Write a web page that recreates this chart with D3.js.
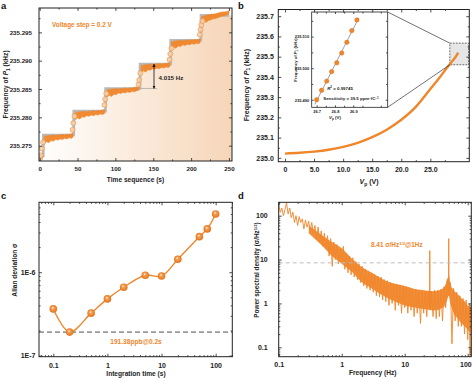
<!DOCTYPE html>
<html><head><meta charset="utf-8">
<script src="https://cdn.jsdelivr.net/npm/d3@7"></script>
<style>body{margin:0;background:#fff}svg{display:block}</style>
</head><body>
<script>
// ================= DATA =================
// Panel a
const aStepT  = [0, 4.8, 45, 87, 132.5, 173, 213, 250];
const aLevels = [235.2732, 235.2769, 235.2811, 235.2851, 235.2894, 235.2936, 235.2980, 235.2980];
const aBandT  = [0,2,4,
  6,9,12,15,18,21,24,27,30,33,36,39,42,44,
  47,50,53,56,59,62,65,68,71,74,77,80,83,86,
  89,92,95,98,101,104,107,110,113,116,119,122,125,128,131,
  134,137,140,143,146,149,152,155,158,161,164,167,170,172,
  174,177,180,183,186,189,192,195,198,201,204,207,210,212,
  214,217,220,223,226,229,232,235,238,241,244,247,250];
const aBandHi = [235.2734,235.2735,235.2737,
  235.2767,235.2767,235.2768,235.2768,235.2769,235.2768,235.2769,235.2769,235.2770,235.2769,235.2770,235.2770,235.2771,235.2772,
  235.2809,235.2809,235.2810,235.2810,235.2811,235.2810,235.2811,235.2811,235.2812,235.2811,235.2812,235.2812,235.2813,235.2814,
  235.2849,235.2849,235.2850,235.2850,235.2851,235.2850,235.2851,235.2851,235.2852,235.2851,235.2852,235.2852,235.2853,235.2853,235.2854,
  235.2892,235.2892,235.2893,235.2893,235.2894,235.2893,235.2894,235.2894,235.2895,235.2894,235.2895,235.2895,235.2896,235.2897,
  235.2934,235.2934,235.2935,235.2935,235.2936,235.2935,235.2936,235.2936,235.2937,235.2936,235.2937,235.2937,235.2938,235.2939,
  235.2978,235.2979,235.2980,235.2981,235.2982,235.2982,235.2983,235.2984,235.2985,235.2986,235.2986,235.2987,235.2988];
const aBandLo = [235.2724,235.2726,235.2728,
  235.2754,235.2757,235.2755,235.2759,235.2758,235.2761,235.2760,235.2762,235.2761,235.2763,235.2762,235.2764,235.2763,235.2765,
  235.2796,235.2799,235.2797,235.2801,235.2800,235.2803,235.2802,235.2804,235.2803,235.2805,235.2804,235.2806,235.2805,235.2807,
  235.2836,235.2839,235.2837,235.2841,235.2840,235.2843,235.2842,235.2844,235.2843,235.2845,235.2844,235.2846,235.2845,235.2847,235.2848,
  235.2879,235.2882,235.2880,235.2884,235.2883,235.2886,235.2885,235.2887,235.2886,235.2888,235.2887,235.2889,235.2888,235.2890,
  235.2921,235.2924,235.2922,235.2926,235.2925,235.2928,235.2927,235.2929,235.2928,235.2930,235.2929,235.2931,235.2930,235.2932,
  235.2966,235.2969,235.2968,235.2971,235.2972,235.2974,235.2974,235.2976,235.2977,235.2979,235.2979,235.2981,235.2982];
const aCircT = [0.5,1.5,3,4.5, 43.5,44.5,46, 85.5,86.5,88, 130.5,131.5,133, 171.5,172.5,174, 211.5,212.5,213.5,215];
const aCircV = [235.2728,235.2733,235.2745,235.2756, 235.2778,235.2790,235.2802, 235.2822,235.2832,235.2842,
                235.2858,235.2866,235.2878, 235.2902,235.2912,235.2922, 235.2946,235.2955,235.2963,235.2970];
const aXTicks = [0,50,100,150,200,250];
const aYTicks = [235.275,235.280,235.285,235.290,235.295];
const aStepLabel = "4.015 Hz";

// Panel b
const bV = [0,2.5,5,7.5,10,12.5,15,17.5,20,22.5,25,26.5,27.5,28.5,29.3,29.8];
const bF = [235.021,235.025,235.031,235.040,235.054,235.074,235.102,235.139,235.188,235.252,235.340,235.393,235.432,235.468,235.497,235.520];
const bXTicks = [0,5,10,15,20,25];
const bYTicks = [235.0,235.1,235.2,235.3,235.4,235.5,235.6,235.7];
const bInsetV = [26.700,26.727,26.755,26.782,26.810,26.837,26.865,26.892,26.920];
const bInsetF = [235.4900,235.4930,235.4959,235.4989,235.5017,235.5048,235.5082,235.5119,235.5153];
const bInsetXTicks = [26.7,26.8,26.9];
const bInsetYTicks = [235.490,235.500,235.510];

// Panel c
const cTau   = [0.1,0.2,0.5,1,2,5,10,20,50,70,100];
const cSigma = [3.63e-7,1.9138e-7,3.23e-7,4.79e-7,6.6e-7,9.2e-7,9.0e-7,1.43e-6,2.67e-6,3.31e-6,5.0e-6];
const cRef = 1.9138e-7;
const cXTicks = [0.1,1,10,100];
const cYTicks = [1e-7,1e-6];
const cYLabels = ["1E-7","1E-6"];

// Panel d
const dF = [0.1,0.106,0.112,0.119,0.126,0.133,0.141,0.150,0.158,0.168,0.178,0.188,0.2,0.211,0.224,0.237,0.251,0.266,0.282,0.299,0.316,0.335,0.355,0.376,0.398,0.422,0.447,0.473,0.501,0.531,0.562,0.596,0.631,0.668,0.708,0.750,0.794,0.841,0.891,0.944,1.0,1.06,1.12,1.19,1.26,1.33,1.41,1.50,1.58,1.68,1.78,1.88,2.0,2.11,2.24,2.37,2.51,2.66,2.82,2.99,3.16,3.35,3.55,3.76,3.98,4.22,4.47,4.73,5.01,5.31,5.62,5.96,6.31,6.68,7.08,7.50,7.94,8.41,8.91,9.44,10.0,10.6,11.2,11.9,12.6,13.3,14.1,15.0,15.8,16.8,17.8,18.8,20.0,21.1,22.4,23.7,24.8,25.0,25.2,26.6,28.2,29.9,31.6,33.5,35.5,37.6,39.8,42.2,44.7,47.3,49.5,50.0,50.5,53.1,56.2,59.6,63.1,66.8,70.8,75.0,79.4,84.1,89.1,94.4,100,106,109,112,115];
const dPSD = [180,120,150,100,140,200,110,150,90,120,70,100,60,95,70,85,50,80,55,75,45,70,40,60,30,55,25,45,20,40,18,35,12,30,7,25,10,22,8,18,9,20,6,14,5,12,4.5,11,4,9,3.5,8,3,7,2.5,6,2.2,5.5,2,5,1.8,4.5,1.5,4.2,1.4,4,1.2,3.5,1.1,3.3,0.9,3,1,2.8,0.7,2.7,0.9,2.6,0.6,2.5,0.8,2.4,0.6,2.3,0.7,2.2,0.5,2.1,0.6,2.0,0.35,2.0,0.6,1.9,0.5,1.9,0.8,16,0.7,1.9,0.5,2.0,0.45,2.0,0.5,2.1,0.4,2.4,0.8,3.5,1.5,30,2,3,0.12,2.2,0.4,1.8,0.3,1.5,0.3,1.3,0.2,1.2,0.15,1,0.06,0.8,0.3];
// dense core band of the spectrum
const dBandF  = [0.3,0.5,0.7,1,1.5,2,3,5,7,10,15,20,30,40,45,48,50,53,60,70,80,90,100,115];
const dBandHi = [60,35,25,18,10,7,5,3.3,2.8,2.5,2.1,2.0,1.9,2.2,2.8,3.8,4.5,2.8,2.0,1.6,1.3,1.1,0.9,0.8];
const dBandLo = [40,20,12,8,5,3.2,2.2,1.4,1.1,0.9,0.8,0.75,0.7,0.8,1.0,1.3,1.5,1.0,0.6,0.45,0.35,0.3,0.25,0.2];
const dRef = 8.41;
const dXTicks = [0.1,1,10,100];
const dYTicks = [0.1,1,10,100];

// ================= STYLE =================
const FONT = "'Liberation Sans', Arial, Helvetica, sans-serif";
const ORANGE = "#f0862a";
const INK = "#222";

const svg = d3.select("body").append("svg").attr("width",472).attr("height",378)
  .style("font-family", FONT);
const defs = svg.append("defs");

function clip(id, x0, y0, x1, y1){
  defs.append("clipPath").attr("id",id).append("rect")
    .attr("x",x0).attr("y",y0).attr("width",x1-x0).attr("height",y1-y0);
  return `url(#${id})`;
}

function minorLog(lo, hi){
  const out=[];
  for(let e=Math.floor(Math.log10(lo))-1;e<=Math.ceil(Math.log10(hi));e++)
    for(let m=2;m<=9;m++){const v=m*Math.pow(10,e); if(v>lo&&v<hi) out.push(v);}
  return out;
}

function frame(g, x, y, o){
  const [x0,x1]=x.range(), [y0,y1]=y.range();
  const fs=o.fs, pad=o.pad||[4,4];
  const add=(gen,scale,vals,size,tr,fmt,p)=>{
    const a=g.append("g").attr("transform",tr)
      .call(gen(scale).tickValues(vals).tickSize(size).tickSizeOuter(0).tickPadding(p||3).tickFormat(fmt||(()=> "")));
    a.select(".domain").remove();
    a.selectAll("line").attr("stroke",INK).attr("stroke-width",0.8);
    a.selectAll("text").attr("fill","#222").style("font-size",fs+"px").style("font-weight","bold").style("font-family",FONT);
    return a;
  };
  const M=o.major||3, m=o.minor||1.6;
  const bx=add(d3.axisBottom,x,o.xt,-M,`translate(0,${y0})`,o.xf,pad[0]);
  add(d3.axisTop,x,o.xt,-M,`translate(0,${y1})`);
  add(d3.axisLeft,y,o.yt,-M,`translate(${x0},0)`,o.yf,pad[1]);
  add(d3.axisRight,y,o.yt,-M,`translate(${x1},0)`);
  if(o.xm){ add(d3.axisBottom,x,o.xm,-m,`translate(0,${y0})`); add(d3.axisTop,x,o.xm,-m,`translate(0,${y1})`); }
  if(o.ym){ add(d3.axisLeft,y,o.ym,-m,`translate(${x0},0)`); add(d3.axisRight,y,o.ym,-m,`translate(${x1},0)`); }
  g.append("rect").attr("x",x0).attr("y",y1).attr("width",x1-x0).attr("height",y0-y1)
    .attr("fill","none").attr("stroke",INK).attr("stroke-width",o.sw||1);
  return bx;
}

function label(txt, x, y, size){
  svg.append("text").attr("x",x).attr("y",y).text(txt).style("font-size",size+"px").style("font-weight","bold").attr("fill","#111");
}

function addParts(t, parts){
  parts.forEach(p=>{ const s=t.append("tspan").text(p.t);
    if(p.i) s.style("font-style","italic");
    if(p.dy) s.attr("dy",p.dy);
    if(p.fs) s.style("font-size",p.fs+"px"); });
  return t;
}
function yTitle(x, y, size, parts){
  const t=svg.append("text").attr("transform",`translate(${x},${y}) rotate(-90)`).attr("text-anchor","middle")
    .style("font-size",size+"px").style("font-weight","bold").attr("fill","#222");
  return addParts(t, parts);
}
function xTitle(x, y, size, parts){
  const t=svg.append("text").attr("x",x).attr("y",y).attr("text-anchor","middle")
    .style("font-size",size+"px").style("font-weight","bold").attr("fill","#222");
  return addParts(t, parts);
}
const P1 = (fs)=>[{t:"Frequency of "},{t:"P",i:1},{t:"1",dy:fs*0.25,fs:fs*0.7},{t:" (kHz)",dy:-fs*0.25}];

// ================= PANEL A =================
{
  const x=d3.scaleLinear().domain([-0.9,254]).range([39,232]);
  const y=d3.scaleLinear().domain([235.2723,235.2993]).range([161,8]);
  const g=svg.append("g");
  const gd=g.append("g").attr("clip-path",clip("ca",39,8,232,161));
  const grad=defs.append("linearGradient").attr("id","ga").attr("x1","0").attr("x2","1").attr("y1","0").attr("y2","0");
  grad.append("stop").attr("offset","0").attr("stop-color","#ffffff");
  grad.append("stop").attr("offset","1").attr("stop-color","#f6d6b8");
  const stair=aStepT.map((t,i)=>[t,aLevels[i]]);
  stair.push([254,aLevels[aLevels.length-1]]);
  gd.append("path").attr("d",d3.area().curve(d3.curveStepAfter).x(d=>x(d[0])).y0(161).y1(d=>y(d[1]))(stair))
    .attr("fill","url(#ga)");
  gd.append("path").attr("d",d3.line().curve(d3.curveStepAfter).x(d=>x(d[0])).y(d=>y(d[1]))(aStepT.map((t,i)=>[t,aLevels[i]])))
    .attr("fill","none").attr("stroke","#b9b9b9").attr("stroke-width",2.6);
  const starts=aStepT.slice(0,-1);
  const pts=aBandT.map((t,i)=>({t,hi:aBandHi[i],lo:aBandLo[i],s:d3.bisectRight(starts,t)-1}));
  d3.groups(pts,d=>d.s).forEach(([k,arr])=>{
    gd.append("path").attr("d",d3.area().x(d=>x(d.t)).y0(d=>y(d.lo)).y1(d=>y(d.hi))(arr))
      .attr("fill",ORANGE).attr("stroke",ORANGE).attr("stroke-width",0.6).attr("opacity",0.95);
  });
  gd.selectAll("circle.tr").data(aCircT).join("circle")
    .attr("cx",d=>x(d)).attr("cy",(d,i)=>y(aCircV[i])).attr("r",2.5)
    .attr("fill","#f8cfa8").attr("stroke","#e8954a").attr("stroke-width",0.7).attr("opacity",0.9);
  g.append("line").attr("x1",x(132.5)).attr("x2",x(155)).attr("y1",y(aLevels[3])).attr("y2",y(aLevels[3]))
    .attr("stroke","#aaa").attr("stroke-width",0.8);
  defs.append("marker").attr("id","ah").attr("viewBox","0 0 10 10").attr("refX",9).attr("refY",5)
    .attr("markerWidth",4).attr("markerHeight",4).attr("orient","auto-start-reverse")
    .append("path").attr("d","M0,0L10,5L0,10z").attr("fill","#111");
  g.append("line").attr("x1",x(151)).attr("x2",x(151)).attr("y1",y(aLevels[4])).attr("y2",y(aLevels[3]))
    .attr("stroke","#111").attr("stroke-width",0.8).attr("marker-start","url(#ah)").attr("marker-end","url(#ah)");
  g.append("text").attr("x",x(157)).attr("y",79.5).text(aStepLabel).style("font-size","6.2px").style("font-weight","bold").attr("fill","#222");
  g.append("text").attr("x",52).attr("y",26.5).text("Voltage step = 0.2 V").style("font-size","6.4px").style("font-weight","bold").attr("fill",ORANGE);
  frame(g,x,y,{xt:aXTicks,yt:aYTicks,xf:d3.format("d"),yf:d3.format(".3f"),fs:6.2,pad:[5.5,7],
    xm:[25,75,125,175,225],ym:[235.2775,235.2825,235.2875,235.2925,235.2975]});
  yTitle(8,84.5,6.6,P1(6.6));
  xTitle(135.5,182,6.6,[{t:"Time sequence (s)"}]);
  label("a",1,8.5,9.5);
}

// ================= PANEL B =================
{
  const x=d3.scaleLinear().domain([-1.15,31.7]).range([278.3,469.3]);
  const y=d3.scaleLinear().domain([234.981,235.7331]).range([161.7,9.5]);
  const g=svg.append("g");
  const gd=g.append("g").attr("clip-path",clip("cb",278.3,8.3,469.3,161.7));
  gd.append("rect").attr("x",x(28.35)).attr("y",y(235.567)).attr("width",x(31.6)-x(28.35)).attr("height",y(235.46)-y(235.567))
    .attr("fill","#e6e6e6").attr("stroke","#444").attr("stroke-width",0.8).attr("stroke-dasharray","1.8,1.2");
  gd.append("path").attr("d",d3.line().curve(d3.curveMonotoneX).x((d,i)=>x(bV[i])).y((d,i)=>y(bF[i]))(bV))
    .attr("fill","none").attr("stroke",ORANGE).attr("stroke-width",2.4);
  const ix=d3.scaleLinear().domain([26.673,27.088]).range([311.7,387.7]);
  const iy=d3.scaleLinear().domain([235.4876,235.5178]).range([107.3,12]);
  g.append("line").attr("x1",387.7).attr("y1",12).attr("x2",x(28.35)).attr("y2",y(235.567)).attr("stroke","#333").attr("stroke-width",0.7);
  g.append("line").attr("x1",387.7).attr("y1",107.3).attr("x2",x(28.35)).attr("y2",y(235.46)).attr("stroke","#333").attr("stroke-width",0.7);
  g.append("rect").attr("x",311.7).attr("y",12).attr("width",76).attr("height",95.3).attr("fill","#fff");
  const mx=d3.mean(bInsetV), my=d3.mean(bInsetF);
  const sl=d3.sum(bInsetV,(v,i)=>(v-mx)*(bInsetF[i]-my))/d3.sum(bInsetV,v=>(v-mx)*(v-mx));
  const fit=v=>my+sl*(v-mx);
  g.append("line").attr("x1",ix(26.69)).attr("x2",ix(26.93)).attr("y1",iy(fit(26.69))).attr("y2",iy(fit(26.93)))
    .attr("stroke","#888").attr("stroke-width",0.8);
  g.selectAll("circle.in").data(bInsetV).join("circle").attr("cx",d=>ix(d)).attr("cy",(d,i)=>iy(bInsetF[i])).attr("r",2.2)
    .attr("fill",ORANGE).attr("stroke","#d96d1a").attr("stroke-width",0.5);
  const gi=g.append("g");
  frame(gi,ix,iy,{xt:bInsetXTicks,yt:bInsetYTicks,xf:d3.format(".1f"),yf:d3.format(".3f"),fs:4,pad:[3,2.5],major:2,sw:0.8,
    xm:[26.75,26.85,26.95,27.05],ym:[235.495,235.505,235.515]});
  const tR=g.append("text").attr("x",340).attr("y",89.5).attr("text-anchor","middle").style("font-size","4.4px").style("font-weight","bold").attr("fill","#222");
  tR.append("tspan").text("R").style("font-style","italic");
  tR.append("tspan").text("2").attr("dy",-1.5).style("font-size","3px");
  tR.append("tspan").text(" = 0.99745").attr("dy",1.5);
  const tS=g.append("text").attr("x",351).attr("y",100).attr("text-anchor","middle").style("font-size","4.4px").style("font-weight","bold").attr("fill","#222");
  tS.append("tspan").text("Sensitivity = 39.5 ppm·fC");
  tS.append("tspan").text("−1").attr("dy",-1.5).style("font-size","3px");
  const it=g.append("text").attr("transform","translate(297,60) rotate(-90)").attr("text-anchor","middle").style("font-size","4.2px").style("font-weight","bold").attr("fill","#222");
  addParts(it,P1(4.2));
  const ixt=g.append("text").attr("x",335).attr("y",119).attr("text-anchor","middle").style("font-size","4.4px").style("font-weight","bold").attr("fill","#222");
  addParts(ixt,[{t:"V",i:1},{t:"p",dy:1,fs:3},{t:" (V)",dy:-1}]);

  frame(g,x,y,{xt:bXTicks,yt:bYTicks,xf:d=>d===0?"0":d3.format(".1f")(d),yf:d3.format(".1f"),fs:7,pad:[5,4.5],
    xm:[2.5,7.5,12.5,17.5,22.5,27.5],ym:[235.05,235.15,235.25,235.35,235.45,235.55,235.65]});
  yTitle(248.5,85,7,P1(7));
  xTitle(369,184,7,[{t:"V",i:1},{t:"p",dy:1.8,fs:5},{t:" (V)",dy:-1.8}]);
  label("b",238,8.5,9.5);
}

// ================= PANEL C =================
{
  const x=d3.scaleLog().domain([0.0544,203]).range([39,232.3]);
  const y=d3.scaleLog().domain([0.97e-7,6.9e-6]).range([356.7,202.3]);
  const g=svg.append("g");
  const gd=g.append("g").attr("clip-path",clip("cc",39,202.3,232.3,356.7));
  gd.append("line").attr("x1",39).attr("x2",232.3).attr("y1",y(cRef)).attr("y2",y(cRef))
    .attr("stroke","#9a9a9a").attr("stroke-width",1.6).attr("stroke-dasharray","5,3");
  gd.append("path").attr("d",d3.line().curve(d3.curveCatmullRom.alpha(0.5)).x((d,i)=>x(cTau[i])).y((d,i)=>y(cSigma[i]))(cTau))
    .attr("fill","none").attr("stroke",ORANGE).attr("stroke-width",1.4);
  const rg=defs.append("radialGradient").attr("id","sph").attr("cx","0.5").attr("cy","0.5").attr("r","0.55").attr("fx","0.4").attr("fy","0.32");
  rg.append("stop").attr("offset","0").attr("stop-color","#fff6ec");
  rg.append("stop").attr("offset","0.3").attr("stop-color","#f6a055");
  rg.append("stop").attr("offset","1").attr("stop-color","#e06f14");
  gd.selectAll("circle").data(cTau).join("circle").attr("cx",d=>x(d)).attr("cy",(d,i)=>y(cSigma[i])).attr("r",3.8)
    .attr("fill","url(#sph)");
  g.append("text").attr("x",136).attr("y",344).attr("text-anchor","middle").text("191.38ppb@0.2s")
    .style("font-size","6.6px").style("font-weight","bold").attr("fill",ORANGE);
  frame(g,x,y,{xt:cXTicks,yt:cYTicks,xf:d3.format("~g"),yf:(d)=>cYLabels[cYTicks.indexOf(d)],fs:7,pad:[6.3,3.5],
    xm:minorLog(0.0544,203),ym:minorLog(0.97e-7,6.9e-6)});
  yTitle(16.5,270,6.6,[{t:"Allan deviation σ"}]);
  xTitle(136,375.5,6.6,[{t:"Integration time (s)"}]);
  label("c",1,199,9.5);
}

// ================= PANEL D =================
{
  const x=d3.scaleLog().domain([0.1,114]).range([278.7,471.3]);
  const y=d3.scaleLog().domain([0.061,202]).range([356.7,202.3]);
  const g=svg.append("g");
  const gd=g.append("g").attr("clip-path",clip("cd",278.7,202.3,471.3,356.7));
  gd.append("path").attr("d",d3.area().curve(d3.curveMonotoneX).x((d,i)=>x(dBandF[i])).y0((d,i)=>y(dBandLo[i])).y1((d,i)=>y(dBandHi[i]))(dBandF))
    .attr("fill",ORANGE).attr("opacity",0.92);
  gd.append("path").attr("d",d3.line().x((d,i)=>x(dF[i])).y((d,i)=>y(dPSD[i]))(dF))
    .attr("fill","none").attr("stroke",ORANGE).attr("stroke-width",0.9).attr("stroke-linejoin","bevel");
  gd.append("line").attr("x1",278.7).attr("x2",471.3).attr("y1",y(dRef)).attr("y2",y(dRef))
    .attr("stroke","#bdbdbd").attr("stroke-width",1).attr("stroke-dasharray","4,3");
  const t=g.append("text").attr("x",371).attr("y",247).style("font-size","6.4px").style("font-weight","bold").attr("fill",ORANGE);
  addParts(t,[{t:"8.41 σ/Hz"},{t:"1/2",dy:-2.2,fs:4.2},{t:"@1Hz",dy:2.2}]);
  const bx=frame(g,x,y,{xt:dXTicks,yt:dYTicks,xf:d3.format("~g"),yf:d3.format("~g"),fs:7,pad:[5,11],
    xm:minorLog(0.1,114),ym:minorLog(0.061,202)});
  bx.selectAll("text").filter(d=>d===100).attr("text-anchor","end").attr("dx",3.5);
  yTitle(258.5,270,6.4,[{t:"Power spectral density (σ/Hz"},{t:"1/2",dy:-2,fs:4.2},{t:")",dy:2}]);
  xTitle(372.7,375,6.6,[{t:"Frequency (Hz)"}]);
  label("d",238,199,9.5);
}
</script>
</body></html>
